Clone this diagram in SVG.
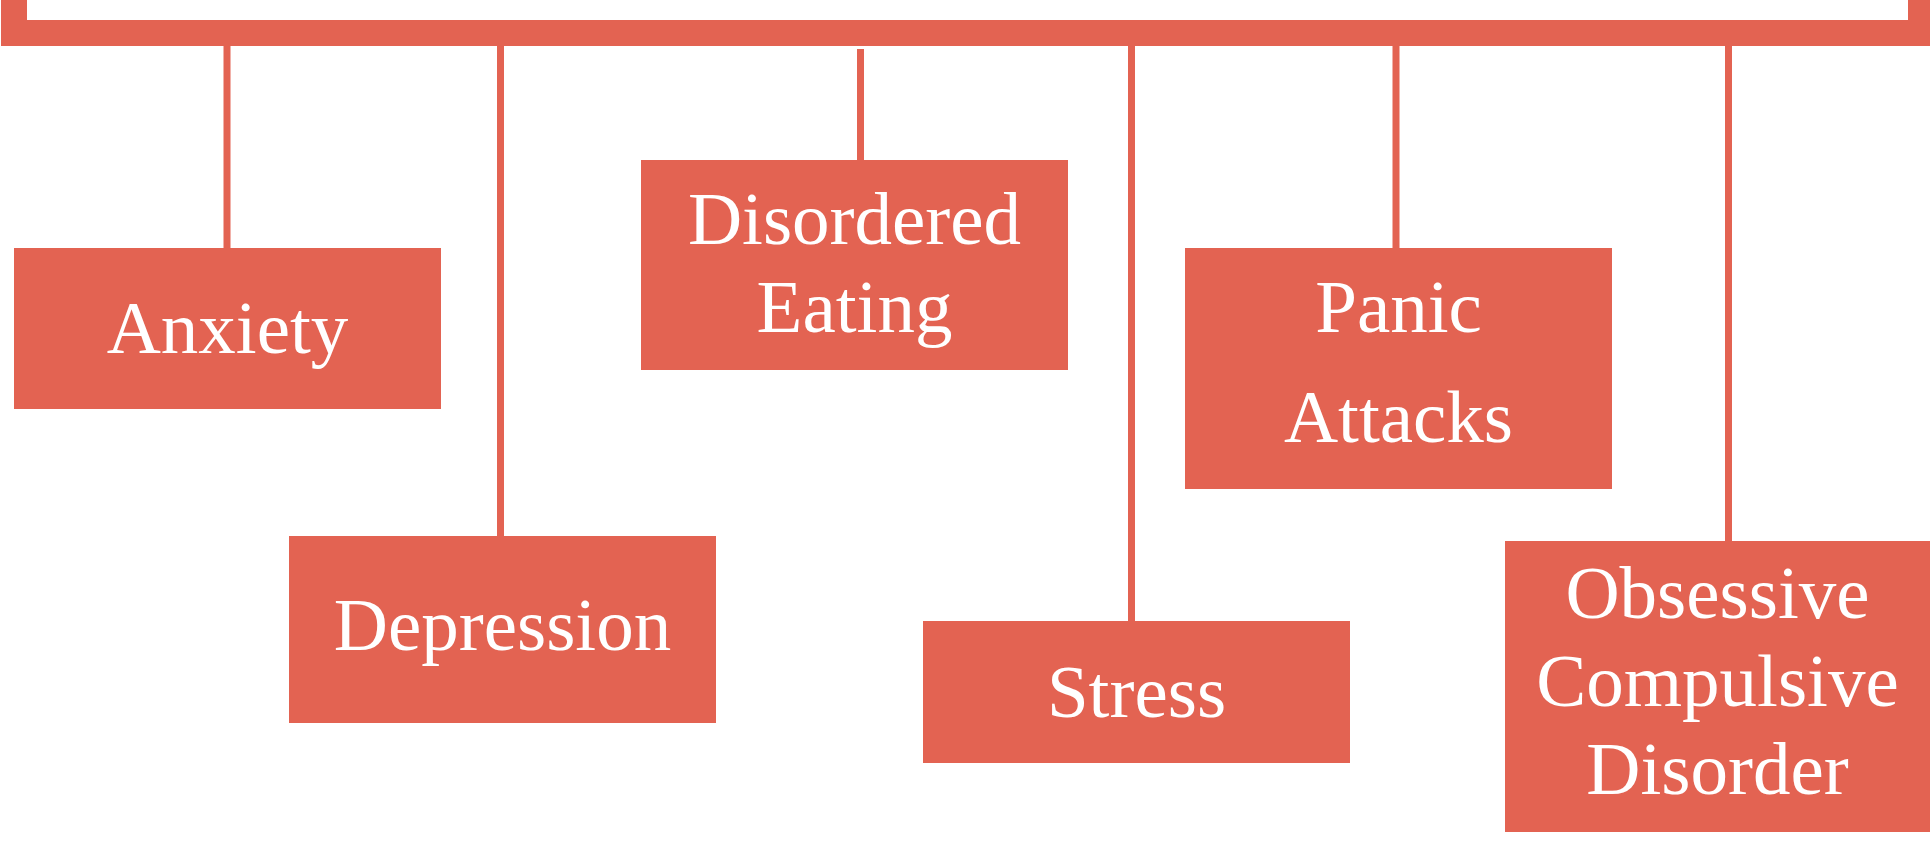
<svg xmlns="http://www.w3.org/2000/svg" width="1930" height="852" viewBox="0 0 1930 852">
<style>
.box{fill:#E36352}
.lbl{font-family:"Liberation Serif","Times New Roman",serif;font-size:75px;fill:#FFFFFF;text-anchor:middle}
.con{stroke:#E36352;stroke-width:7;fill:none}
</style>
<rect width="1930" height="852" fill="#FFFFFF"/>
<g id="bracket">
<path d="M1 0 H27 V20 H1908 V0 H1930 V46 H1 Z" fill="#E36352"/>
</g>
<g id="connectors">
<line class="con" x1="227" y1="46" x2="227" y2="248"/>
<line class="con" x1="500.5" y1="46" x2="500.5" y2="536"/>
<line class="con" x1="860.5" y1="49" x2="860.5" y2="160"/>
<line class="con" x1="1131.5" y1="46" x2="1131.5" y2="621"/>
<line class="con" x1="1396" y1="46" x2="1396" y2="248"/>
<line class="con" x1="1728.5" y1="46" x2="1728.5" y2="541"/>
</g>
<g id="anxiety">
<rect class="box" x="14" y="248" width="427" height="161"/>
<text class="lbl" x="227.5" y="353">Anxiety</text>
</g>
<g id="depression">
<rect class="box" x="289" y="536" width="427" height="187"/>
<text class="lbl" x="502.5" y="650">Depression</text>
</g>
<g id="disordered-eating">
<rect class="box" x="641" y="160" width="427" height="210"/>
<text class="lbl" x="854.5" y="244">Disordered</text>
<text class="lbl" x="854.5" y="332">Eating</text>
</g>
<g id="stress">
<rect class="box" x="923" y="621" width="427" height="142"/>
<text class="lbl" x="1136.5" y="717">Stress</text>
</g>
<g id="panic-attacks">
<rect class="box" x="1185" y="248" width="427" height="241"/>
<text class="lbl" x="1398.5" y="332">Panic</text>
<text class="lbl" x="1398.5" y="442">Attacks</text>
</g>
<g id="ocd">
<rect class="box" x="1505" y="541" width="425" height="291"/>
<text class="lbl" x="1717.5" y="618">Obsessive</text>
<text class="lbl" x="1717.5" y="706">Compulsive</text>
<text class="lbl" x="1717.5" y="794">Disorder</text>
</g>
</svg>
